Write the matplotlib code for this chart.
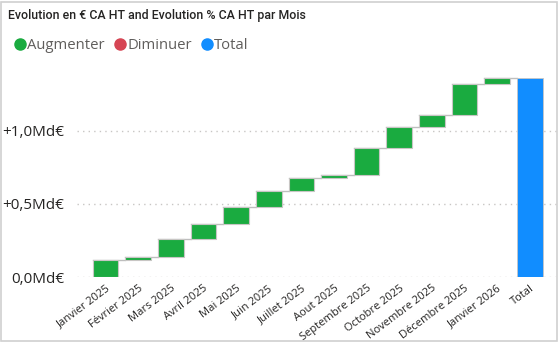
import matplotlib.pyplot as plt
import numpy as np
from matplotlib.lines import Line2D
from matplotlib.patches import Rectangle

plt.rcParams['font.family'] = ['Open Sans', 'DejaVu Sans']

# Données (en milliards d'euros)
mois = ['Janvier 2025', 'Février 2025', 'Mars 2025', 'Avril 2025', 'Mai 2025',
        'Juin 2025', 'Juillet 2025', 'Aout 2025', 'Septembre 2025', 'Octobre 2025',
        'Novembre 2025', 'Décembre 2025', 'Janvier 2026']
evolution = [0.118, 0.022, 0.119, 0.105, 0.118, 0.109, 0.086, 0.021,
             0.184, 0.145, 0.078, 0.212, 0.045]
labels = mois + ['Total']
yticks = [0.0, 0.5, 1.0]
yticklabels = ['0,0Md€', '+0,5Md€', '+1,0Md€']

green = '#1AAB40'
red = '#D64554'
blue = '#118DFF'

fig = plt.figure(figsize=(5.6, 3.44), dpi=100)
ax = fig.add_axes([0.1375, 0.194, 0.857, 0.617])

cum = np.cumsum(evolution)
bottoms = cum - np.array(evolution)
x = np.arange(len(mois))
width = 0.785

colors = [green if v >= 0 else red for v in evolution]
ax.bar(x, evolution, bottom=bottoms, width=width, color=colors,
       edgecolor='#C8C6C4', linewidth=0.8, zorder=3)
ax.bar(len(mois), cum[-1], width=width, color=blue, edgecolor='#C8C6C4',
       linewidth=0.6, zorder=3)

# lignes de liaison
for i in range(len(mois)):
    ax.plot([i - width / 2, i + 1 - width / 2], [cum[i], cum[i]],
            color='#BEBEBE', linewidth=1.0, zorder=2)

ax.set_xlim(-0.874, len(labels) - 1 + 0.83)
ax.set_ylim(0, 1.448)
ax.set_yticks(yticks)
ax.set_yticklabels(yticklabels, fontsize=11, color='#252423')
ax.yaxis.grid(True, linestyle=(0, (1, 3)), color='#C8C6C4', linewidth=1.0, zorder=0)
ax.set_xticks(np.arange(len(labels)))
ax.set_xticklabels(labels, rotation=37, ha='right', rotation_mode='anchor',
                   fontsize=8, color='#252423')
ax.tick_params(axis='y', length=0, pad=9)
ax.tick_params(axis='x', length=0, pad=4)
for s in ax.spines.values():
    s.set_visible(False)

fig.text(0.014, 0.955, 'Evolution en € CA HT and Evolution % CA HT par Mois',
         fontsize=8.9, color='#252423', va='center', ha='left',
         family=['Roboto', 'DejaVu Sans'], fontweight='medium')

handles = [Line2D([], [], marker='o', linestyle='', color=c, markersize=8)
           for c in (green, red, blue)]
fig.legend(handles, ['Augmenter', 'Diminuer', 'Total'], loc='center left',
           bbox_to_anchor=(-0.002, 0.868), ncol=3, frameon=False,
           fontsize=10.7, labelcolor='#605E5C', handletextpad=0.0,
           columnspacing=0.5, handlelength=1.0)

fig.patches.append(Rectangle((0.001, 0.01), 0.994, 0.985, transform=fig.transFigure,
                             fill=False, edgecolor='#D0D0D0', linewidth=1.2))

fig.savefig('out.png', dpi=100)
